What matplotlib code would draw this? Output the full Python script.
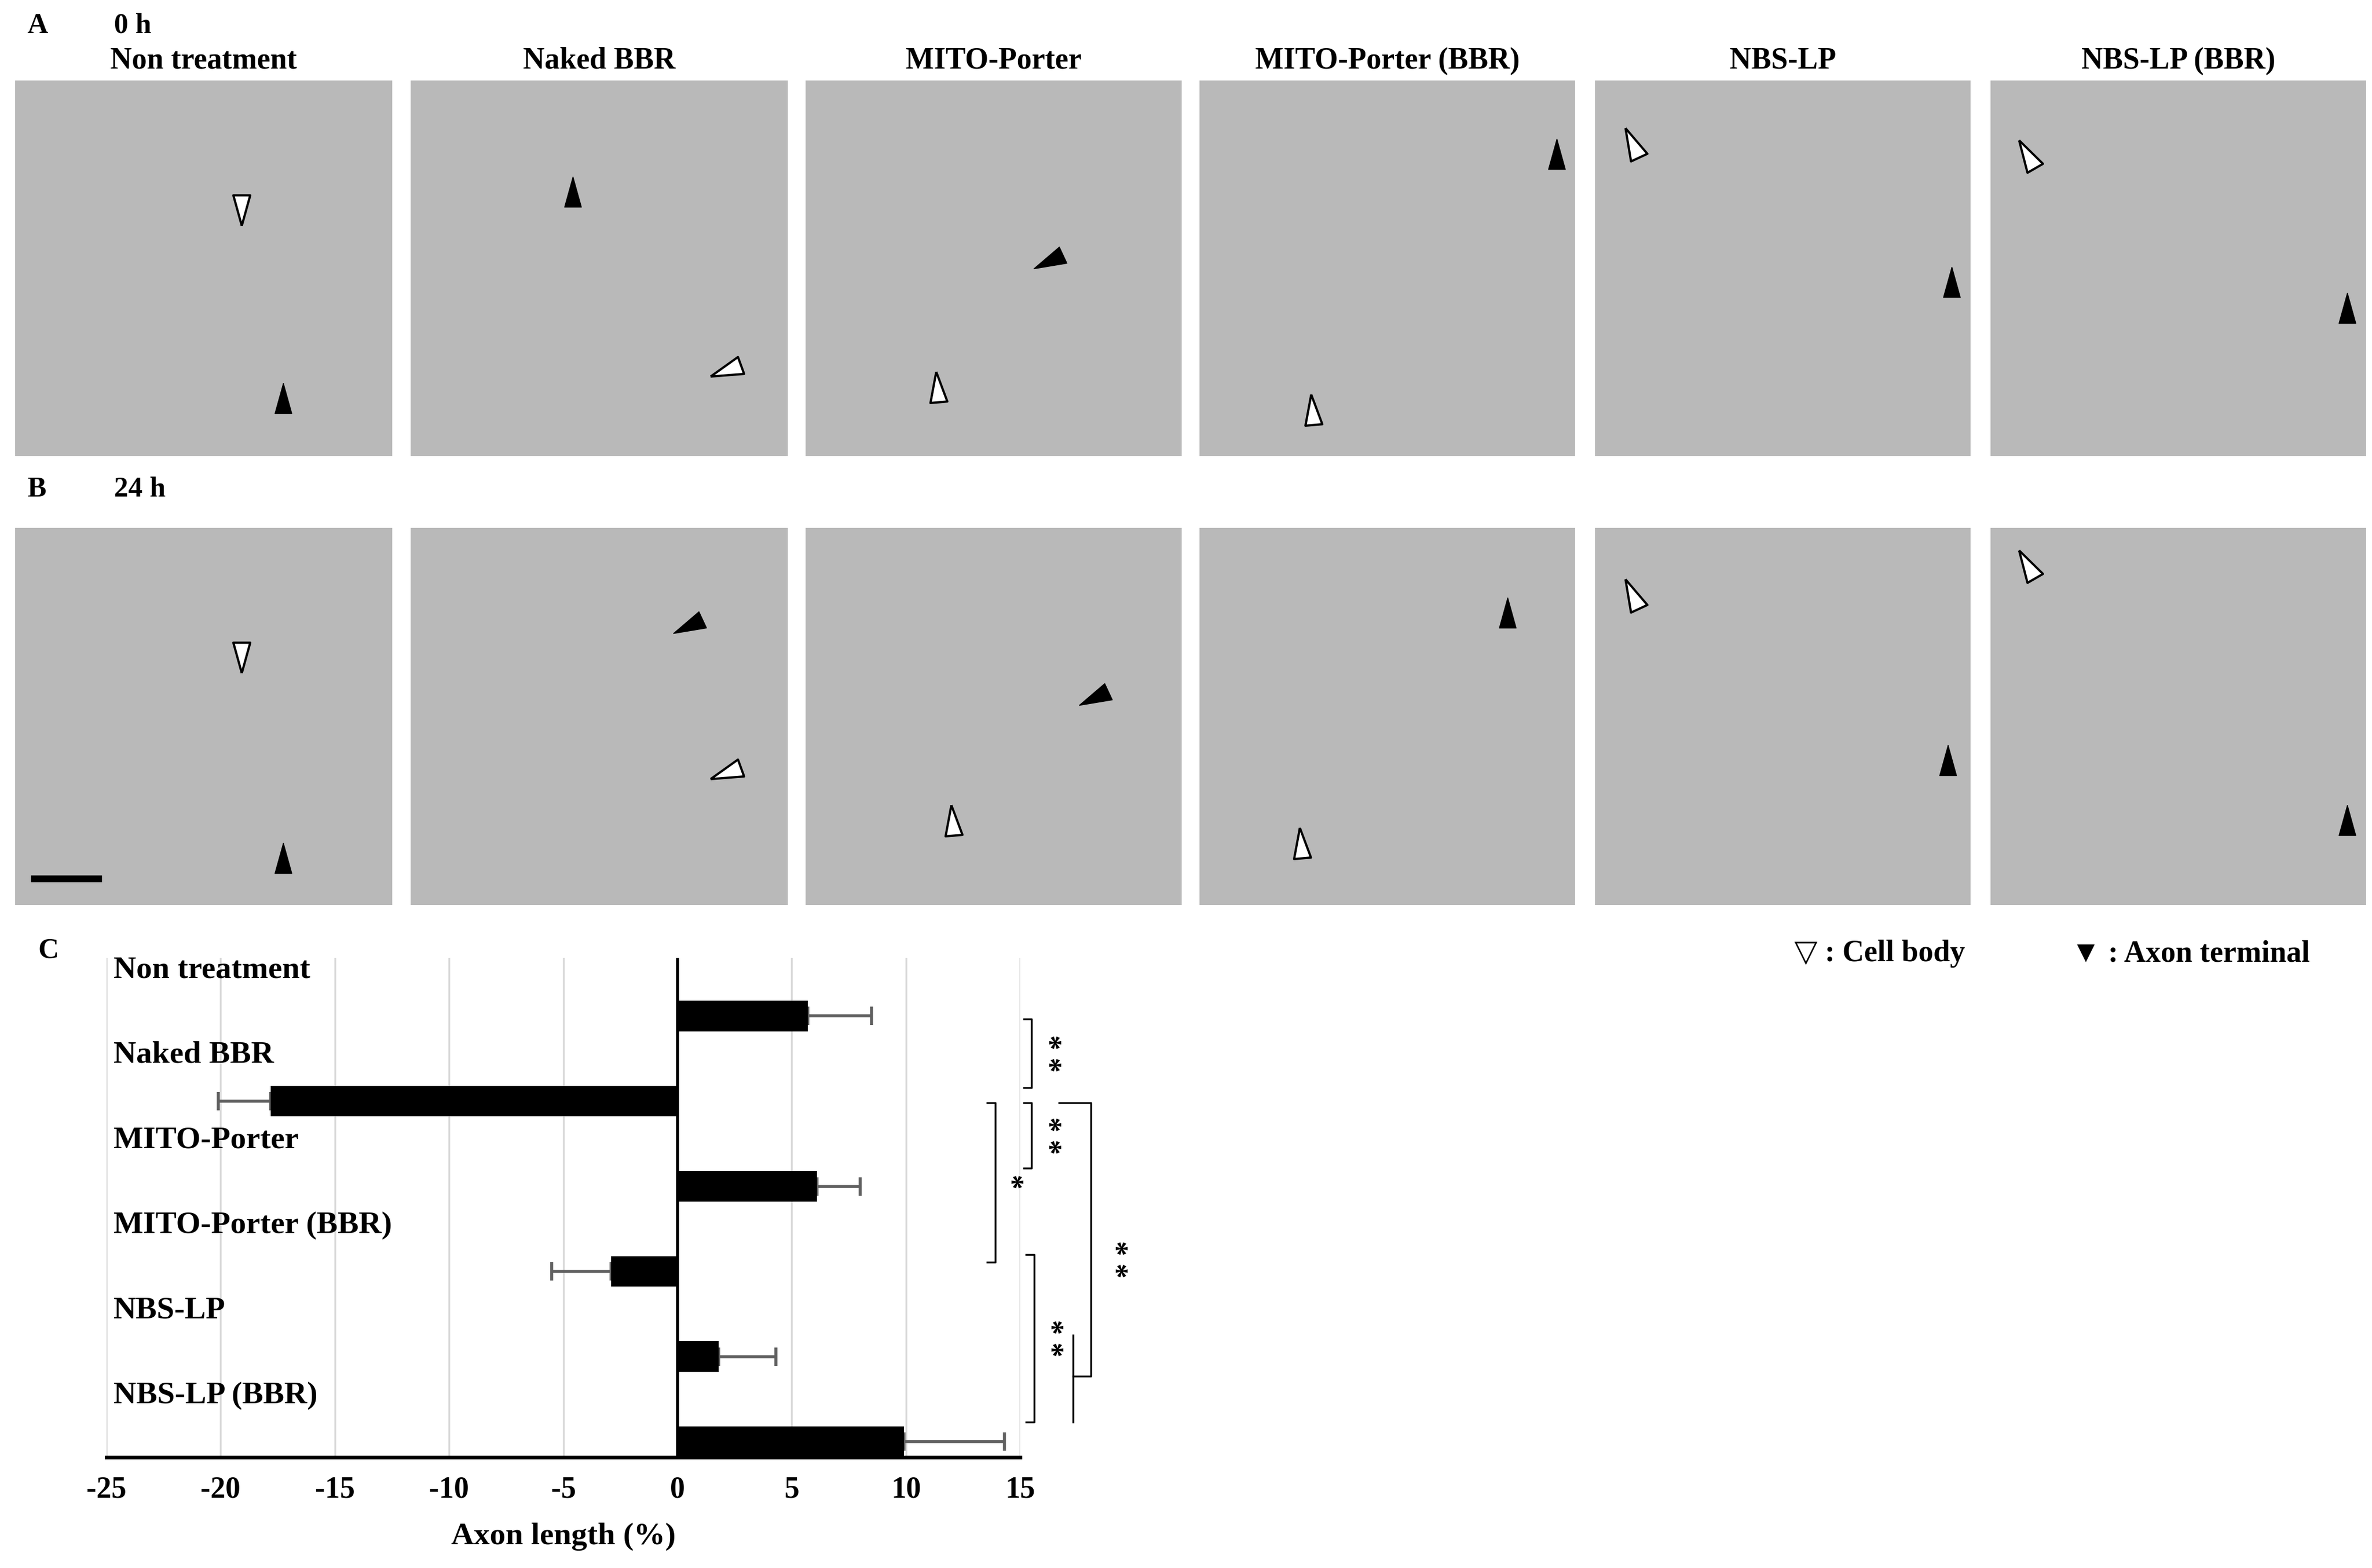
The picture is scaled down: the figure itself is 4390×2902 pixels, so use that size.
import matplotlib.pyplot as plt
import numpy as np

plt.rcParams['font.family'] = ['Liberation Serif', 'DejaVu Serif']
plt.rcParams['font.weight'] = 'bold'
plt.rcParams['axes.labelweight'] = 'bold'

groups = ["Non treatment", "Naked BBR", "MITO-Porter", "MITO-Porter (BBR)", "NBS-LP", "NBS-LP (BBR)"]
axon_change = [5.7, -17.8, 6.1, -2.9, 1.8, 9.9]
axon_err = [2.8, 2.3, 1.9, 2.6, 2.5, 4.4]
xticks = [-25, -20, -15, -10, -5, 0, 5, 10, 15]

# displayed-scale layout (reference shown at 1560 x 1031)
W, H = 1560.0, 1031.0
fig = plt.figure(figsize=(43.9, 29.02), dpi=100)


def box(x0, y0, x1, y1):
    return [x0 / W, 1 - y1 / H, (x1 - x0) / W, (y1 - y0) / H]


def arrowhead(deg):
    # slim triangle pointing in direction deg (0 = right, 90 = up)
    t = np.radians(deg)
    d = np.array([np.cos(t), np.sin(t)])
    n = np.array([-d[1], d[0]])
    tip = d * 1.0
    b1 = -d * 0.8 + n * 0.5
    b2 = -d * 0.8 - n * 0.5
    return [tuple(tip), tuple(b1), tuple(b2), tuple(tip)]


col_x = [(10, 258), (270, 518), (530, 777), (789, 1036), (1049, 1296), (1309, 1556)]
rows = [(53, 300), (347, 595)]
# arrowheads (fraction of panel: x, y, direction) open=cell body, filled=axon terminal
open_pts = [[(0.6, 0.66, -90), (0.84, 0.23, 200), (0.35, 0.18, 95), (0.3, 0.12, 95), (0.1, 0.83, 115), (0.1, 0.8, 120)],
            [(0.6, 0.66, -90), (0.84, 0.35, 200), (0.39, 0.22, 95), (0.27, 0.16, 95), (0.1, 0.82, 115), (0.1, 0.9, 120)]]
fill_pts = [[(0.71, 0.15, 90), (0.43, 0.7, 90), (0.65, 0.52, 205), (0.95, 0.8, 90), (0.95, 0.46, 90), (0.95, 0.39, 90)],
            [(0.71, 0.12, 90), (0.74, 0.74, 205), (0.77, 0.55, 205), (0.82, 0.77, 90), (0.94, 0.38, 90), (0.95, 0.22, 90)]]
for r, (y0, y1) in enumerate(rows):
    for c, (x0, x1) in enumerate(col_x):
        ax = fig.add_axes(box(x0, y0, x1, y1))
        ax.set_facecolor('#b9b9b9')
        ax.set_xlim(0, 1)
        ax.set_ylim(0, 1)
        ax.set_xticks([])
        ax.set_yticks([])
        for s in ax.spines.values():
            s.set_visible(False)
        px, py, d = open_pts[r][c]
        ax.plot(px, py, marker=arrowhead(d), ms=45, mfc='white', mec='black', mew=3, ls='none')
        px, py, d = fill_pts[r][c]
        ax.plot(px, py, marker=arrowhead(d), ms=45, mfc='black', mec='black', ls='none')
        if r == 1 and c == 0:
            ax.plot([0.05, 0.22], [0.07, 0.07], color='black', lw=9)
        if r == 0:
            fig.text(((x0 + x1) / 2) / W, 1 - 40 / H, groups[c], ha='center', va='center', fontsize=40)

fig.text(18 / W, 1 - 17 / H, "A", fontsize=38, va='center')
fig.text(75 / W, 1 - 17 / H, "0 h", fontsize=38, va='center')
fig.text(18 / W, 1 - 322 / H, "B", fontsize=38, va='center')
fig.text(75 / W, 1 - 322 / H, "24 h", fontsize=38, va='center')
fig.text(25 / W, 1 - 625 / H, "C", fontsize=38, va='center')
fig.text(1180 / W, 1 - 627 / H, "▽ : Cell body", fontsize=40, va='center')
fig.text(1362 / W, 1 - 627 / H, "▼ : Axon terminal", fontsize=40, va='center')

# bar chart
ax = fig.add_axes(box(70, 630, 671, 958))
k = np.arange(len(groups))
ax.barh(k, axon_change, height=0.36, color='black', zorder=3)
for i in k:
    v, e = axon_change[i], axon_err[i]
    ax.errorbar(v, i, xerr=[[0], [e]] if v > 0 else [[e], [0]], fmt='none', ecolor='#606060',
                elinewidth=4, capsize=12, capthick=4, zorder=2)
    ax.text(-25 + 0.3, i - 0.54, groups[i], fontsize=42, va='center', ha='left')
ax.set_xlim(-25, 15)
ax.set_ylim(5.18, -0.68)
ax.set_xticks(xticks)
ax.set_xticklabels([str(t) for t in xticks], fontsize=40)
ax.set_yticks([])
ax.grid(axis='x', color='#d9d9d9', lw=2.5, zorder=0)
ax.axvline(0, color='black', lw=4, zorder=4)
for s in ['top', 'right', 'left']:
    ax.spines[s].set_visible(False)
ax.spines['bottom'].set_linewidth(5)
ax.tick_params(axis='x', length=0, pad=25)
ax.set_xlabel("Axon length (%)", fontsize=42, labelpad=25)


def bracket(x, ya, yb, label, lx, arm=0.35):
    ax.plot([x - arm, x, x, x - arm], [ya, ya, yb, yb], color='black', lw=2.5, clip_on=False)
    ax.text(lx, (ya + yb) / 2, label, fontsize=40, rotation=-90, ha='center', va='center')


def ky(py):
    return (py - 668) / 56.0


bracket(15.5, ky(670), ky(715), "* *", 16.2)
bracket(15.5, ky(725), ky(768), "* *", 16.2)
bracket(13.9, ky(725), ky(830), "*", 14.5)
bracket(15.6, ky(825), ky(935), "* *", 16.3)
ax.plot([16.7, 18.1, 18.1, 17.3], [ky(725), ky(725), ky(905), ky(905)], color='black', lw=2.5, clip_on=False)
ax.plot([17.3, 17.3], [ky(878), ky(935)], color='black', lw=2.5, clip_on=False)
ax.text(19.1, ky(828), "* *", fontsize=40, rotation=-90, ha='center', va='center')

fig.savefig('out.png')
